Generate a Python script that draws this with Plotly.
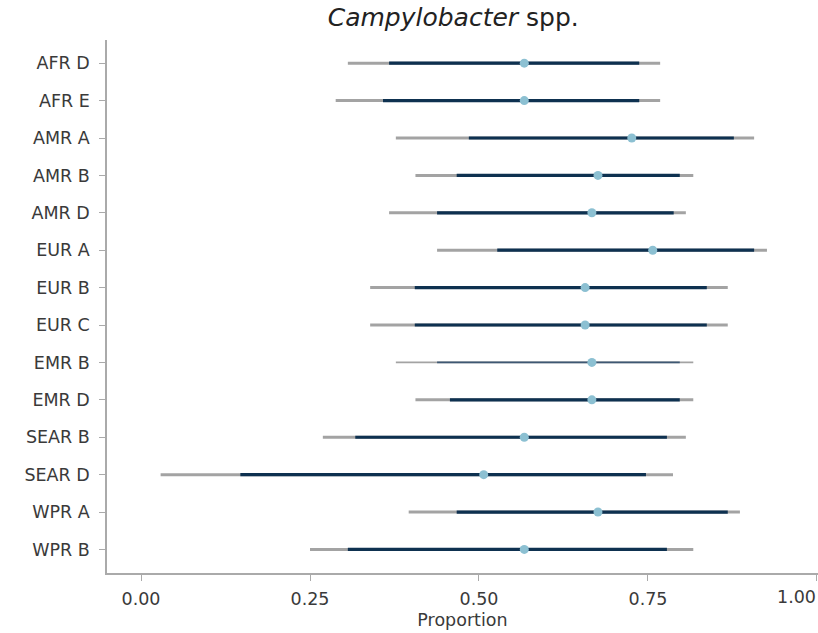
import plotly.graph_objects as go

regions = ["AFR D", "AFR E", "AMR A", "AMR B", "AMR D", "EUR A", "EUR B", "EUR C",
           "EMR B", "EMR D", "SEAR B", "SEAR D", "WPR A", "WPR B"]
median = [0.567, 0.567, 0.726, 0.676, 0.667, 0.757, 0.657, 0.657, 0.667, 0.667, 0.567, 0.507, 0.676, 0.567]
lo50 = [0.367, 0.358, 0.485, 0.467, 0.438, 0.527, 0.405, 0.405, 0.438, 0.457, 0.317, 0.147, 0.467, 0.306]
hi50 = [0.737, 0.737, 0.877, 0.797, 0.788, 0.907, 0.837, 0.837, 0.797, 0.797, 0.778, 0.747, 0.868, 0.778]
lo95 = [0.306, 0.288, 0.377, 0.406, 0.367, 0.438, 0.339, 0.339, 0.377, 0.406, 0.269, 0.029, 0.396, 0.250]
hi95 = [0.768, 0.768, 0.907, 0.817, 0.806, 0.926, 0.868, 0.868, 0.817, 0.817, 0.806, 0.787, 0.886, 0.817]
thin_rows = ["EMR B"]
x_ticks = [0, 0.25, 0.5, 0.75, 1.0]
x_tick_text = ["0.00", "0.25", "0.50", "0.75", ""]

GRAY = "#a3a3a3"
DARK = "#0e3150"
SLATE = "#3e5873"
DOT = "#8cc0d2"
FONT = "DejaVu Sans"
TXT = "#3a3a3a"
FS = 17.5


def segs(lo, hi, names):
    xs, ys = [], []
    for r, a, b in zip(regions, lo, hi):
        if r in names:
            xs += [a, b, None]
            ys += [r, r, None]
    return xs, ys


thick = [r for r in regions if r not in thin_rows]
fig = go.Figure()
for names, w95, w50, col in [(thick, 3, 3.2, DARK), (thin_rows, 1.6, 1.8, SLATE)]:
    xs, ys = segs(lo95, hi95, names)
    fig.add_trace(go.Scatter(x=xs, y=ys, mode="lines", line=dict(color=GRAY, width=w95),
                             hoverinfo="skip", showlegend=False))
    xs, ys = segs(lo50, hi50, names)
    fig.add_trace(go.Scatter(x=xs, y=ys, mode="lines", line=dict(color=col, width=w50),
                             hoverinfo="skip", showlegend=False))

fig.add_trace(go.Scatter(x=median, y=regions, mode="markers",
                         marker=dict(color=DOT, size=9), showlegend=False))

fig.update_layout(
    width=818, height=633,
    margin=dict(l=107, r=0, t=40, b=60),
    plot_bgcolor="white", paper_bgcolor="white",
    font=dict(family=FONT, color=TXT, size=FS),
    title=dict(text="<i>Campylobacter</i> spp.", x=0.487, xref="paper", xanchor="center",
               y=1, yref="container", yanchor="top", pad=dict(t=8),
               font=dict(family=FONT, size=25, color="#222222")),
    xaxis=dict(range=[-0.0503, 1.0015], tickvals=x_ticks, ticktext=x_tick_text,
               showgrid=False, zeroline=False, showline=True, linecolor="#aaaaaa", linewidth=1.5,
               ticks="outside", ticklen=6, tickcolor="#aaaaaa", tickwidth=1.2,
               ticklabelstandoff=3,
               tickfont=dict(size=FS, color=TXT),
               title=dict(text="Proportion", font=dict(size=FS, color=TXT), standoff=6)),
    yaxis=dict(type="category", categoryorder="array", categoryarray=regions,
               range=[13.63, -0.62], showgrid=False, zeroline=False,
               showline=True, linecolor="#aaaaaa", linewidth=1.5,
               ticks="outside", ticklen=6, tickcolor="#aaaaaa", tickwidth=1.2,
               ticklabelstandoff=6,
               tickfont=dict(size=FS, color=TXT)),
)

fig.add_annotation(text="1.00", x=1, xref="paper", xanchor="right",
                   y=-(597 - 573) / 533, yref="paper", yanchor="middle",
                   showarrow=False, font=dict(size=FS, color=TXT))

fig.write_html("out.html")
